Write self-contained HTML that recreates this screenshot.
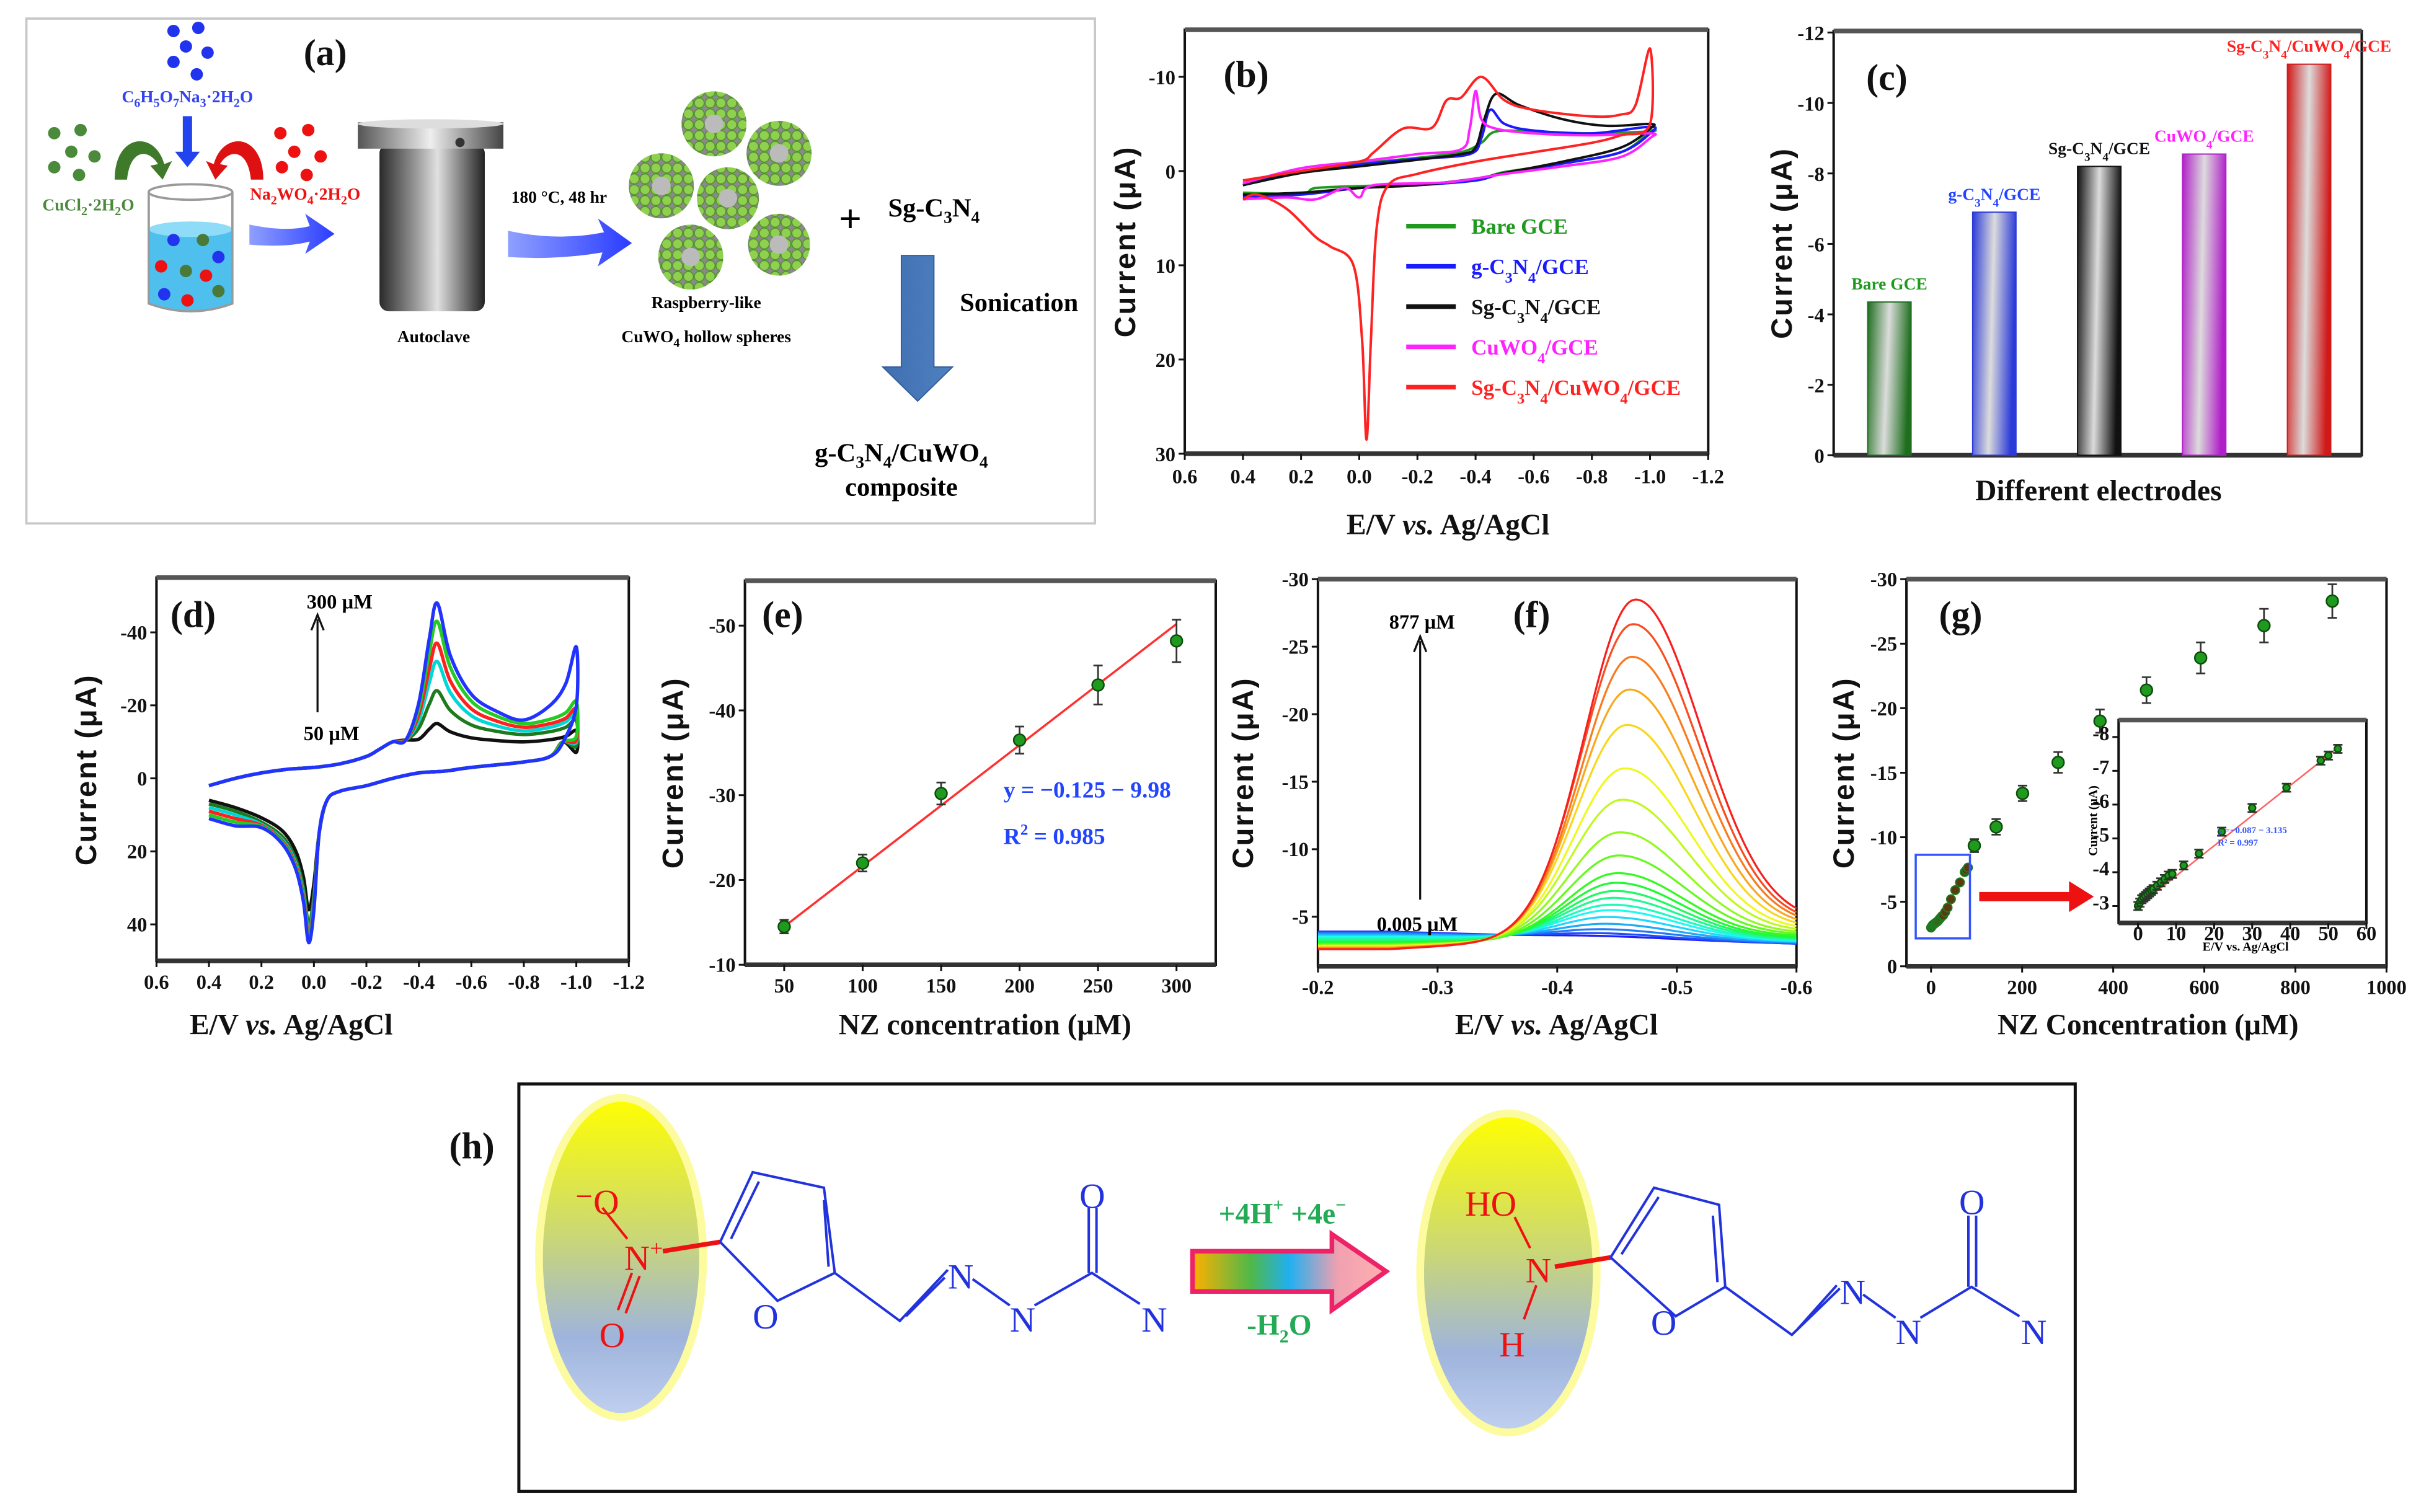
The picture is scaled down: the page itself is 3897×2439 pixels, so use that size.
<!DOCTYPE html>
<html><head><meta charset="utf-8">
<style>
html,body{margin:0;padding:0;background:#fff;}
svg{display:block;}
text{font-family:"Liberation Serif",serif;}
.tk{font-size:13px;font-weight:bold;fill:#111;}
.ttl{font-size:19px;font-weight:bold;fill:#111;}
.yttl{font-family:"Liberation Sans",sans-serif;font-size:19px;font-weight:bold;fill:#111;letter-spacing:1px;}
.plab{font-size:24px;font-weight:bold;fill:#111;}
</style></head>
<body>
<svg id="fig" xmlns="http://www.w3.org/2000/svg" width="3897" height="2439" viewBox="0 0 1560 976.4">
<defs>
  <linearGradient id="gAuto" x1="0" x2="1" y1="0" y2="0"><stop offset="0" stop-color="#2a2a2a"/><stop offset="0.35" stop-color="#9a9a9a"/><stop offset="0.55" stop-color="#e0e0e0"/><stop offset="1" stop-color="#222"/></linearGradient>
  <linearGradient id="gCap" x1="0" x2="1"><stop offset="0" stop-color="#555"/><stop offset="0.5" stop-color="#eee"/><stop offset="1" stop-color="#444"/></linearGradient>
  <linearGradient id="gBlueArrow" x1="0" x2="1"><stop offset="0" stop-color="#8fa0ff"/><stop offset="1" stop-color="#2a3cff"/></linearGradient>
  <pattern id="pBerry" width="7" height="7" patternUnits="userSpaceOnUse"><rect width="7" height="7" fill="#8a8a8a"/><circle cx="3.5" cy="3.5" r="3.2" fill="#8fd14f" stroke="#4f8f2a" stroke-width="0.6"/></pattern>
  <linearGradient id="gEll" x1="0" x2="0" y1="0" y2="1"><stop offset="0" stop-color="#ffff00"/><stop offset="0.45" stop-color="#c8d67a"/><stop offset="0.75" stop-color="#9fb4dc"/><stop offset="1" stop-color="#c0d0f0"/></linearGradient>
  <linearGradient id="gRxn" x1="0" x2="1"><stop offset="0" stop-color="#ffb000"/><stop offset="0.3" stop-color="#50b848"/><stop offset="0.5" stop-color="#20b0f0"/><stop offset="0.75" stop-color="#f0a0b0"/><stop offset="1" stop-color="#ffb0b0"/></linearGradient>
  <linearGradient id="gSon" x1="0" x2="1"><stop offset="0" stop-color="#3f6fb0"/><stop offset="1" stop-color="#4f80c0"/></linearGradient>
</defs>

<!-- ================= PANEL A ================= -->
<g>
  <rect x="17" y="12" width="690" height="326" fill="#fff" stroke="#c8c8c8" stroke-width="1.5"/>
  <text class="plab" x="196" y="42">(a)</text>
  <g fill="#2233ee">
    <circle cx="112" cy="20" r="4"/><circle cx="128" cy="18" r="4"/><circle cx="120" cy="30" r="4"/><circle cx="134" cy="34" r="4"/><circle cx="112" cy="40" r="4"/><circle cx="127" cy="48" r="4"/>
  </g>
  <text x="121" y="66" text-anchor="middle" font-size="11" font-weight="bold" fill="#3344ee">C<tspan font-size="8" dy="3">6</tspan><tspan dy="-3">H</tspan><tspan font-size="8" dy="3">5</tspan><tspan dy="-3">O</tspan><tspan font-size="8" dy="3">7</tspan><tspan dy="-3">Na</tspan><tspan font-size="8" dy="3">3</tspan><tspan dy="-3">·2H</tspan><tspan font-size="8" dy="3">2</tspan><tspan dy="-3">O</tspan></text>
  <path d="M118 75 V98 h-5 l8 10 l8 -10 h-5 V75 z" fill="#2244ee"/>
  <g fill="#4a8a3a">
    <circle cx="35" cy="86" r="4"/><circle cx="52" cy="84" r="4"/><circle cx="46" cy="98" r="4"/><circle cx="61" cy="101" r="4"/><circle cx="35" cy="108" r="4"/><circle cx="51" cy="113" r="4"/>
  </g>
  <path d="M74 116 C74 86 100 84 106 106 l5 -2 l-6 12 l-8 -9 l5 -1 C96 96 84 96 82 116 z" fill="#3f7a2a"/>
  <g fill="#ee1111">
    <circle cx="181" cy="86" r="4"/><circle cx="199" cy="84" r="4"/><circle cx="190" cy="98" r="4"/><circle cx="207" cy="101" r="4"/><circle cx="182" cy="108" r="4"/><circle cx="198" cy="113" r="4"/>
  </g>
  <path d="M170 116 C170 86 144 84 138 106 l-5 -2 l6 12 l8 -9 l-5 -1 C148 96 160 96 162 116 z" fill="#dd1111"/>
  <text x="57" y="136" text-anchor="middle" font-size="11" font-weight="bold" fill="#4a8a3a">CuCl<tspan font-size="8" dy="3">2</tspan><tspan dy="-3">·2H</tspan><tspan font-size="8" dy="3">2</tspan><tspan dy="-3">O</tspan></text>
  <text x="197" y="129" text-anchor="middle" font-size="11" font-weight="bold" fill="#ee1111">Na<tspan font-size="8" dy="3">2</tspan><tspan dy="-3">WO</tspan><tspan font-size="8" dy="3">4</tspan><tspan dy="-3">·2H</tspan><tspan font-size="8" dy="3">2</tspan><tspan dy="-3">O</tspan></text>
  <g>
    <path d="M96 148 V196 Q123 206 150 196 V148 Z" fill="#4fc0ee"/>
    <ellipse cx="123" cy="148" rx="27" ry="5" fill="#8fdcf8"/>
    <path d="M96 124 V196 Q123 206 150 196 V124" fill="none" stroke="#9a9a9a" stroke-width="1.5"/>
    <ellipse cx="123" cy="124" rx="27" ry="5" fill="none" stroke="#9a9a9a" stroke-width="1.5"/>
    <circle cx="112" cy="155" r="4" fill="#2233ee"/><circle cx="131" cy="155" r="4" fill="#4a7a3a"/><circle cx="141" cy="166" r="4" fill="#2233ee"/>
    <circle cx="104" cy="172" r="4" fill="#ee1111"/><circle cx="120" cy="175" r="4" fill="#4a7a3a"/><circle cx="133" cy="178" r="4" fill="#ee1111"/>
    <circle cx="106" cy="190" r="4" fill="#2233ee"/><circle cx="121" cy="194" r="4" fill="#ee1111"/><circle cx="141" cy="188" r="4" fill="#4a7a3a"/>
  </g>
  <path d="M161 145 Q185 150 200 146 L197 138 L216 151 L197 164 L200 156 Q185 160 161 158 Z" fill="url(#gBlueArrow)"/>
  <g>
    <rect x="245" y="93" width="68" height="108" rx="6" fill="url(#gAuto)"/>
    <rect x="231" y="79" width="94" height="17" fill="url(#gCap)"/>
    <ellipse cx="278" cy="80" rx="47" ry="3" fill="#ddd"/>
    <circle cx="297" cy="92" r="3" fill="#333"/>
  </g>
  <text x="280" y="221" text-anchor="middle" font-size="11" font-weight="bold">Autoclave</text>
  <text x="361" y="131" text-anchor="middle" font-size="11" font-weight="bold">180 °C, 48 hr</text>
  <path d="M328 149 Q360 156 390 150 L386 141 L408 157 L386 172 L389 163 Q360 168 328 166 Z" fill="url(#gBlueArrow)"/>
  <g>
    <circle cx="461" cy="80" r="21" fill="url(#pBerry)"/><circle cx="461" cy="80" r="6" fill="#bbb"/>
    <circle cx="503" cy="99" r="21" fill="url(#pBerry)"/><circle cx="503" cy="99" r="6" fill="#bbb"/>
    <circle cx="427" cy="120" r="21" fill="url(#pBerry)"/><circle cx="427" cy="120" r="6" fill="#bbb"/>
    <circle cx="470" cy="128" r="20" fill="url(#pBerry)"/><circle cx="470" cy="128" r="6" fill="#bbb"/>
    <circle cx="446" cy="166" r="21" fill="url(#pBerry)"/><circle cx="446" cy="166" r="6" fill="#bbb"/>
    <circle cx="503" cy="158" r="20" fill="url(#pBerry)"/><circle cx="503" cy="158" r="6" fill="#bbb"/>
  </g>
  <text x="456" y="199" text-anchor="middle" font-size="11" font-weight="bold">Raspberry-like</text>
  <text x="456" y="221" text-anchor="middle" font-size="11" font-weight="bold">CuWO<tspan font-size="8" dy="3">4</tspan><tspan dy="-3"> hollow spheres</tspan></text>
  <text x="549" y="150" text-anchor="middle" font-size="26" font-weight="bold">+</text>
  <text x="603" y="140" text-anchor="middle" font-size="17" font-weight="bold">Sg-C<tspan font-size="11" dy="4">3</tspan><tspan dy="-4">N</tspan><tspan font-size="11" dy="4">4</tspan></text>
  <path d="M582 165 H603 V237 H615 L592.5 259 L570 237 H582 Z" fill="url(#gSon)" stroke="#35609a" stroke-width="0.8"/>
  <text x="658" y="201" text-anchor="middle" font-size="17" font-weight="bold">Sonication</text>
  <text x="582" y="298" text-anchor="middle" font-size="17" font-weight="bold">g-C<tspan font-size="11" dy="4">3</tspan><tspan dy="-4">N</tspan><tspan font-size="11" dy="4">4</tspan><tspan dy="-4">/CuWO</tspan><tspan font-size="11" dy="4">4</tspan></text>
  <text x="582" y="320" text-anchor="middle" font-size="17" font-weight="bold">composite</text>
</g>

<!-- chart containers -->
<g id="pb"></g>
<g id="pc"></g>
<g id="pd"></g>
<g id="pe"></g>
<g id="pf"></g>
<g id="pg"></g>

<!-- ================= PANEL H ================= -->
<g>
  <text class="plab" x="290" y="748">(h)</text>
  <rect x="335" y="700" width="1005" height="263" fill="#fff" stroke="#111" stroke-width="2"/>
  <ellipse cx="401" cy="812" rx="53" ry="103" fill="url(#gEll)" stroke="#fdfba0" stroke-width="5"/>
  <ellipse cx="974" cy="822" rx="57" ry="103" fill="url(#gEll)" stroke="#fdfba0" stroke-width="5"/>
  <g fill="none" stroke-width="1.6">
    <g stroke="#ee1111">
      <line x1="389" y1="780" x2="405" y2="800"/>
      <line x1="408" y1="822" x2="399" y2="846"/><line x1="413" y1="824" x2="404" y2="848"/>
      <line x1="428" y1="808" x2="465" y2="802" stroke-width="3"/>
    </g>
    <g stroke="#2233dd">
      <polyline points="465,802 486,757 532,767 539,822 502,840 465,802"/>
      <line x1="472" y1="800" x2="490" y2="763"/>
      <line x1="532" y1="775" x2="535" y2="818"/>
      <polyline points="539,822 581,853 612,820"/>
      <line x1="585" y1="850" x2="610" y2="825"/>
      <line x1="628" y1="826" x2="652" y2="843"/>
      <polyline points="668,843 705,822 736,842"/>
      <line x1="703" y1="780" x2="703" y2="822"/><line x1="708" y1="780" x2="708" y2="822"/>
    </g>
    <g stroke="none" font-family="Liberation Serif, serif" font-size="23">
      <text x="371" y="784" fill="#ee1111">⁻O</text>
      <text x="403" y="820" fill="#ee1111">N<tspan font-size="15" dy="-9">+</tspan></text>
      <text x="387" y="870" fill="#ee1111">O</text>
      <text x="486" y="858" fill="#2233dd">O</text>
      <text x="612" y="832" fill="#2233dd">N</text>
      <text x="652" y="860" fill="#2233dd">N</text>
      <text x="697" y="780" fill="#2233dd">O</text>
      <text x="737" y="860" fill="#2233dd">N</text>
    </g>
  </g>
  <path d="M770 808 H860 V797 L895 821 L860 846 V834 H770 Z" fill="url(#gRxn)" stroke="#ee2266" stroke-width="3"/>
  <text x="828" y="790" text-anchor="middle" font-size="19" font-weight="bold" fill="#22aa55">+4H<tspan font-size="12" dy="-8">+</tspan><tspan dy="8"> +4e</tspan><tspan font-size="12" dy="-8">−</tspan></text>
  <text x="826" y="862" text-anchor="middle" font-size="19" font-weight="bold" fill="#22aa55">-H<tspan font-size="12" dy="5">2</tspan><tspan dy="-5">O</tspan></text>
  <g fill="none" stroke-width="1.6">
    <g stroke="#ee1111">
      <line x1="978" y1="786" x2="988" y2="806"/>
      <line x1="992" y1="830" x2="984" y2="852"/>
      <line x1="1004" y1="818" x2="1040" y2="812" stroke-width="3"/>
    </g>
    <g stroke="#2233dd">
      <polyline points="1040,812 1068,767 1110,778 1114,831 1082,850 1040,812"/>
      <line x1="1047" y1="810" x2="1071" y2="773"/>
      <line x1="1106" y1="785" x2="1109" y2="828"/>
      <polyline points="1114,831 1157,862 1188,832"/>
      <line x1="1161" y1="858" x2="1186" y2="830"/>
      <line x1="1203" y1="836" x2="1224" y2="851"/>
      <polyline points="1240,851 1273,831 1304,850"/>
      <line x1="1271" y1="785" x2="1271" y2="831"/><line x1="1276" y1="785" x2="1276" y2="831"/>
    </g>
    <g stroke="none" font-family="Liberation Serif, serif" font-size="23">
      <text x="946" y="785" fill="#ee1111">HO</text>
      <text x="985" y="828" fill="#ee1111">N</text>
      <text x="968" y="876" fill="#ee1111">H</text>
      <text x="1066" y="862" fill="#2233dd">O</text>
      <text x="1188" y="842" fill="#2233dd">N</text>
      <text x="1224" y="868" fill="#2233dd">N</text>
      <text x="1265" y="784" fill="#2233dd">O</text>
      <text x="1305" y="868" fill="#2233dd">N</text>
    </g>
  </g>
</g>
</svg>

<script>
// ---------------- DATA ----------------
const bNames = ['Bare GCE','g-C3N4/GCE','Sg-C3N4/GCE','CuWO4/GCE','Sg-C3N4/CuWO4/GCE'];
const bColors = ['#1f9a1f','#1a1aff','#111111','#ff22ff','#ff2222'];
const bBare = [[0.4,1.5],[0.2,0],[0,-0.8],[-0.2,-1.4],[-0.35,-2],[-0.42,-3],[-0.47,-4.2],[-0.6,-4.2],[-0.8,-4],[-1.0,-4.2],[-1.0,-4.2],[-0.9,-2],[-0.7,-0.8],[-0.5,0.1],[-0.4,0.9],[-0.2,1.4],[0,1.6],[0.15,1.8],[0.2,2.4],[0.4,2.3]];
const bG = [[0.4,1.5],[0.2,0],[0,-0.7],[-0.2,-1.3],[-0.38,-1.8],[-0.42,-3.5],[-0.45,-6.5],[-0.5,-5],[-0.6,-4.3],[-0.8,-4],[-1.0,-4.7],[-1.0,-4],[-0.9,-2],[-0.7,-0.8],[-0.5,0.2],[-0.4,1],[-0.2,1.5],[0,1.8],[0.2,2.5],[0.4,2.7]];
const bSg = [[0.4,1.5],[0.2,0.2],[0,-0.5],[-0.2,-1.2],[-0.35,-1.8],[-0.4,-2.5],[-0.43,-5.5],[-0.47,-8.2],[-0.55,-7],[-0.7,-5.5],[-0.85,-4.8],[-1.0,-5],[-1.0,-4.5],[-0.9,-2.5],[-0.7,-1],[-0.5,0.2],[-0.4,0.8],[-0.2,1.5],[0,1.8],[0.2,2.3],[0.4,2.5]];
const bCu = [[0.4,1.3],[0.2,-0.3],[0,-1],[-0.2,-1.8],[-0.35,-2.3],[-0.38,-4.5],[-0.4,-8.5],[-0.42,-5.5],[-0.47,-4.5],[-0.6,-4],[-0.8,-3.8],[-1.0,-4],[-1.0,-3.5],[-0.9,-1.5],[-0.7,-0.5],[-0.5,0.3],[-0.3,1.2],[-0.05,1.5],[0.0,2.8],[0.05,1.8],[0.15,3],[0.25,2.8],[0.4,3]];
const bComp = [[0.4,1.0],[0.2,0],[0,-1],[-0.05,-2],[-0.15,-4.5],[-0.25,-4.6],[-0.3,-7.5],[-0.35,-7.8],[-0.42,-10],[-0.5,-7.5],[-0.6,-6.5],[-0.8,-5.8],[-0.9,-6],[-0.95,-7],[-1.0,-13],[-1.0,-5],[-0.9,-3.8],[-0.8,-3],[-0.6,-2],[-0.4,-1],[-0.2,0.3],[-0.1,1.5],[-0.06,6],[-0.04,18],[-0.025,28.5],[-0.01,18],[0.02,10],[0.1,8],[0.15,7],[0.25,4],[0.35,2.5],[0.4,3]];
const bSeries = [bBare,bG,bSg,bCu,bComp];
const bXTicks = [0.6,0.4,0.2,0.0,-0.2,-0.4,-0.6,-0.8,-1.0,-1.2];
const bYTicks = [-10,0,10,20,30];

const cCats = ['Bare GCE','g-C3N4/GCE','Sg-C3N4/GCE','CuWO4/GCE','Sg-C3N4/CuWO4/GCE'];
const cVals = [-4.35,-6.9,-8.2,-8.55,-11.1];
const cColors = ['#1e6e1e','#2a3ad8','#111111','#b020c8','#d01a1a'];
const cLabelColors = ['#1f9a1f','#2244ff','#111111','#ff22ff','#ff2222'];
const cYTicks = [0,-2,-4,-6,-8,-10,-12];

const dLabels = ['50 µM','100 µM','150 µM','200 µM','250 µM','300 µM'];
const dColors = ['#111111','#1e7a1e','#00d8d8','#ff2020','#22cc22','#2233ff'];
const dPeakOx = [-15,-24,-32,-37,-43,-48];
const dPeakRed = [36,40,42,43,44,45];
const dEnd = [-13,-16,-18,-19,-21,-36];
const dBase = [-10,-12,-13,-14,-15,-16];
const dStart = [6,7,8,9,10,11];
const dXTicks = [0.6,0.4,0.2,0.0,-0.2,-0.4,-0.6,-0.8,-1.0,-1.2];
const dYTicks = [-40,-20,0,20,40];

const eX = [50,100,150,200,250,300];
const eY = [-14.5,-22,-30.2,-36.5,-43,-48.2];
const eErr = [0.8,1.0,1.3,1.6,2.3,2.5];
const eFitX = [50,300];
const eFitY = [-14.5,-50.2];
const eXTicks = [50,100,150,200,250,300];
const eYTicks = [-10,-20,-30,-40,-50];

const fPeaks = [-3.6,-3.8,-4.1,-4.5,-5.0,-5.5,-5.9,-6.4,-6.9,-7.5,-8.2,-9.5,-11.2,-13.6,-15.9,-19.1,-21.7,-24.1,-26.5,-28.3];
const fPeakE = [-0.44,-0.44,-0.442,-0.443,-0.444,-0.445,-0.446,-0.447,-0.448,-0.449,-0.45,-0.451,-0.452,-0.454,-0.456,-0.458,-0.46,-0.462,-0.463,-0.465];
const fBaseLeft = [-3.9,-3.85,-3.8,-3.7,-3.6,-3.5,-3.4,-3.3,-3.2,-3.1,-3.0,-2.95,-2.9,-2.85,-2.8,-2.75,-2.7,-2.65,-2.6,-2.6];
const fBaseRight = [-3.0,-3.0,-3.05,-3.1,-3.15,-3.2,-3.25,-3.3,-3.35,-3.4,-3.5,-3.6,-3.7,-3.8,-3.9,-4.0,-4.1,-4.2,-4.3,-4.4];
const fXTicks = [-0.2,-0.3,-0.4,-0.5,-0.6];
const fYTicks = [-5,-10,-15,-20,-25,-30];

const gX = [95,143,201,279,371,473,592,731,881];
const gY = [-9.35,-10.8,-13.4,-15.8,-19.0,-21.4,-23.9,-26.4,-28.3];
const gErr = [0.5,0.6,0.6,0.8,0.9,1.0,1.2,1.3,1.3];
const gXTicks = [0,200,400,600,800,1000];
const gYTicks = [0,-5,-10,-15,-20,-25,-30];
const insX = [0.005,0.5,1,1.5,2,2.5,3,3.5,4,5,6,7,8,9,12,16,22,30,39,48,50,52.5];
const insY = [-3.0,-3.1,-3.2,-3.25,-3.3,-3.35,-3.4,-3.45,-3.5,-3.6,-3.7,-3.8,-3.9,-3.95,-4.2,-4.55,-5.2,-5.9,-6.5,-7.3,-7.45,-7.65];
const insFitX = [0,52.5];
const insFitY = [-3.0,-7.68];
const insXTicks = [0,10,20,30,40,50,60];
const insYTicks = [-3,-4,-5,-6,-7,-8];

// ---------------- HELPERS ----------------
const NS = 'http://www.w3.org/2000/svg';
function el(tag, attrs, parent){ const e=document.createElementNS(NS,tag); for(const k in attrs) e.setAttribute(k,attrs[k]); parent.appendChild(e); return e; }
function lin(d0,d1,r0,r1){ return v => r0+(v-d0)*(r1-r0)/(d1-d0); }
function smooth(pts){
  let d='M'+pts[0][0].toFixed(2)+','+pts[0][1].toFixed(2);
  for(let i=0;i<pts.length-1;i++){
    const p0=pts[i-1]||pts[i], p1=pts[i], p2=pts[i+1], p3=pts[i+2]||p2;
    const c1x=p1[0]+(p2[0]-p0[0])/6, c1y=p1[1]+(p2[1]-p0[1])/6, c2x=p2[0]-(p3[0]-p1[0])/6, c2y=p2[1]-(p3[1]-p1[1])/6;
    d+=`C${c1x.toFixed(2)},${c1y.toFixed(2)} ${c2x.toFixed(2)},${c2y.toFixed(2)} ${p2[0].toFixed(2)},${p2[1].toFixed(2)}`;
  }
  return d;
}
function fmt(v){ return (Math.abs(v)<1e-9)?'0':String(v); }
function frame(g, x0,y0,x1,y1, sx,sy, xt,yt, xf, yf, fs){
  fs = fs||13;
  const r = el('rect',{x:x0,y:y0,width:x1-x0,height:y1-y0,fill:'none',stroke:'#111','stroke-width':1.6},g);
  
  
  const tb = el('line',{x1:x0,y1:y0,x2:x1,y2:y0,stroke:'#555','stroke-width':3},g);
  
  
  const bb = el('line',{x1:x0,y1:y1,x2:x1,y2:y1,stroke:'#333','stroke-width':3},g);
  
  
  xt.forEach(v=>{
    const x=sx(v);
    const t=el('line',{x1:x,y1:y1,x2:x,y2:y1+4,stroke:'#111','stroke-width':1.2},g);
    
    
    const tx=el('text',{x:x,y:y1+fs+5,'text-anchor':'middle',class:'tk','font-size':fs},g);
    
    
    tx.textContent = xf? xf(v): fmt(v);
  });
  yt.forEach(v=>{
    const y=sy(v);
    const t=el('line',{x1:x0-4,y1:y,x2:x0,y2:y,stroke:'#111','stroke-width':1.2},g);
    
    
    const tx=el('text',{x:x0-6,y:y+fs*0.35,'text-anchor':'end',class:'tk','font-size':fs},g);
    
    
    tx.textContent = yf? yf(v): fmt(v);
  });
}
function ytitle(g,x,y,txt){
  const t=el('text',{x:x,y:y,'text-anchor':'middle',class:'yttl',transform:`rotate(-90 ${x} ${y})`},g);
  
  
  t.textContent=txt;
}
function xtitleEV(g,x,y){
  const t=el('text',{x:x,y:y,'text-anchor':'middle',class:'ttl'},g);
  
  
  t.innerHTML='E/V <tspan font-style="italic">vs.</tspan> Ag/AgCl';
}
function xtitle(g,x,y,txt){
  const t=el('text',{x:x,y:y,'text-anchor':'middle',class:'ttl'},g);
  
  
  t.textContent=txt;
}
function plabel(g,x,y,txt){
  const t=el('text',{x:x,y:y,class:'plab'},g);
  
  
  t.textContent=txt;
}
function subHTML(s){ return s.replace(/(C|N|O)(\d)/g,'$1<tspan font-size="0.7em" baseline-shift="sub">$2</tspan>'); }
const dec1 = v => (Math.abs(v)<1e-9?'0.0':v.toFixed(1));

// ---------------- PANEL B ----------------
(function(){
  const g=document.getElementById('pb');
  const sx=lin(0.6,-1.2,765,1103), sy=lin(-15,30,19.2,293);
  frame(g,765,19.2,1103,293,sx,sy,bXTicks,bYTicks,dec1,null,14);
  bSeries.forEach((s,i)=>{
    const p=el('path',{d:smooth(s.map(q=>[sx(q[0]),sy(q[1])])),fill:'none',stroke:bColors[i],'stroke-width':1.6},g);
    
    
  });
  bNames.forEach((n,i)=>{
    const y=146+i*26;
    const l=el('line',{x1:908,y1:y,x2:940,y2:y,stroke:bColors[i],'stroke-width':3},g);
    
    
    const t=el('text',{x:950,y:y+5,'font-size':14,'font-weight':'bold',fill:bColors[i]},g);
    
    
    t.innerHTML=subHTML(n);
  });
  plabel(g,790,56,'(b)');
  ytitle(g,733,156,'Current (μA)');
  xtitleEV(g,935,345);
})();

// ---------------- PANEL C ----------------
(function(){
  const g=document.getElementById('pc');
  const sx=lin(0,4,1220,1491), sy=lin(0,-12,294,21);
  const defs=el('defs',{},g);
  cColors.forEach((c,i)=>{
    const lg=el('linearGradient',{id:'bg'+i,x1:'0',x2:'1',y1:'0',y2:'0.15'},defs);
    el('stop',{offset:'0','stop-color':c},lg);
    el('stop',{offset:'0.5','stop-color':'#dcdcdc'},lg);
    el('stop',{offset:'1','stop-color':c},lg);
  });
  frame(g,1184,20,1525,294,sx,sy,[],cYTicks,null,null,14);
  cVals.forEach((v,i)=>{
    const x=sx(i)-14, y=sy(v);
    const r=el('rect',{x:x,y:y,width:28,height:sy(0)-y,fill:`url(#bg${i})`,stroke:cColors[i],'stroke-width':0.8},g);
    
    
    const t=el('text',{x:sx(i),y:y-8,'text-anchor':'middle','font-size':11,'font-weight':'bold',fill:cLabelColors[i]},g);
    
    
    t.innerHTML=subHTML(cCats[i]);
  });
  plabel(g,1205,58,'(c)');
  ytitle(g,1157,157,'Current (μA)');
  xtitle(g,1355,323,'Different electrodes');
})();

// ---------------- PANEL D ----------------
(function(){
  const g=document.getElementById('pd');
  const sx=lin(0.6,-1.2,101,406), sy=lin(-55,50,373,620.5);
  frame(g,101,373,406,620.5,sx,sy,dXTicks,dYTicks,dec1,null,13);
  for(let i=0;i<dPeakOx.length;i++){
    const p=dPeakOx[i], b=dBase[i], e=dEnd[i], q=dPeakRed[i];
    const pts=[[0.4,2],[0.3,0],[0.2,-1.5],[0.1,-2.5],[0,-3],[-0.1,-4],[-0.2,-6],[-0.25,-8],[-0.3,-10],[-0.35,-10.5],
      [-0.4,b+(p-b)*0.15],[-0.44,b+(p-b)*0.7],[-0.47,p],[-0.52,b+(p-b)*0.55],[-0.6,b+(p-b)*0.22],[-0.7,b+(p-b)*0.07],[-0.8,b],[-0.9,b+(e-b)*0.2],[-0.96,b+(e-b)*0.5],[-1.0,e],
      [-1.0,e*0.55],[-0.95,-10],[-0.9,-6],[-0.8,-4.5],[-0.6,-3],[-0.5,-2],[-0.4,-1.5],[-0.3,0],[-0.2,2],[-0.1,3.5],[-0.05,6],[-0.02,15],[0.0,q*0.8],[0.02,q],[0.04,q*0.75],[0.07,q*0.55],[0.12,q*0.4],[0.2,q*0.3],[0.3,dStart[i]+2],[0.4,dStart[i]]];
    const path=el('path',{d:smooth(pts.map(r=>[sx(r[0]),sy(r[1])])),fill:'none',stroke:dColors[i],'stroke-width':2.2},g);
    
    
  }
  const a=el('path',{d:'M205 460 V400 M201 407 L205 397 L209 407',stroke:'#111','stroke-width':1.3,fill:'none'},g);
  
  
  const t1=el('text',{x:198,y:393,'font-size':13,'font-weight':'bold'},g);
  
  
  t1.textContent='300 µM';
  const t2=el('text',{x:196,y:478,'font-size':13,'font-weight':'bold'},g);
  
  
  t2.textContent='50 µM';
  plabel(g,110,405,'(d)');
  ytitle(g,62,497,'Current (μA)');
  xtitleEV(g,188,668);
})();

// ---------------- PANEL E ----------------
(function(){
  const g=document.getElementById('pe');
  const sx=lin(25,325,481,785), sy=lin(-10,-55.3,623,375);
  frame(g,481,375,785,623,sx,sy,eXTicks,eYTicks,null,null,13);
  const fl=el('line',{x1:sx(eFitX[0]),y1:sy(eFitY[0]),x2:sx(eFitX[1]),y2:sy(eFitY[1]),stroke:'#ff3030','stroke-width':1.4},g);
  
  
  eX.forEach((x,i)=>{
    const cx=sx(x), cy=sy(eY[i]);
    const eb=el('path',{d:`M${cx} ${sy(eY[i]-eErr[i])} V${sy(eY[i]+eErr[i])} M${cx-3} ${sy(eY[i]-eErr[i])} h6 M${cx-3} ${sy(eY[i]+eErr[i])} h6`,stroke:'#333','stroke-width':1.1,fill:'none'},g);
    
    
    const c=el('circle',{cx:cx,cy:cy,r:3.8,fill:'#1f9a1f',stroke:'#0d4d0d','stroke-width':1},g);
    
    
  });
  const eq=el('text',{x:648,y:515,'font-size':15,'font-weight':'bold',fill:'#2244ff'},g);
  
  
  eq.textContent='y = −0.125 − 9.98';
  const r2=el('text',{x:648,y:545,'font-size':15,'font-weight':'bold',fill:'#2244ff'},g);
  
  
  r2.innerHTML='R<tspan font-size="10" dy="-6">2</tspan><tspan dy="6"> = 0.985</tspan>';
  plabel(g,492,405,'(e)');
  ytitle(g,441,499,'Current (μA)');
  xtitle(g,636,668,'NZ concentration (μM)');
})();

// ---------------- PANEL F ----------------
(function(){
  const g=document.getElementById('pf');
  const sx=lin(-0.2,-0.6,851,1160), sy=lin(-1.33,-30,624,374);
  frame(g,851,374,1160,624,sx,sy,fXTicks,fYTicks,dec1,null,13);
  const clip=el('clipPath',{id:'fclip'},g);
  el('rect',{x:851,y:374,width:309,height:250},clip);
  const cg=el('g',{'clip-path':'url(#fclip)'},g);
  const n=fPeaks.length;
  for(let i=0;i<n;i++){
    const pts=[];
    for(let k=0;k<=80;k++){
      const E=-0.2-k*0.005;
      const t=(E+0.2)/-0.4;
      const base=fBaseLeft[i]+(fBaseRight[i]-fBaseLeft[i])*Math.min(1,Math.max(0,(t-0.15)/0.85));
      const sig=E>fPeakE[i]?0.042:0.055;
      const v=base+(fPeaks[i]-(fBaseLeft[i]+fBaseRight[i])/2)*Math.exp(-Math.pow((E-fPeakE[i])/sig,2)/2);
      pts.push([sx(E),sy(v)]);
    }
    const hue=240-240*i/(n-1);
    const p=el('path',{d:smooth(pts),fill:'none',stroke:`hsl(${hue},95%,55%)`,'stroke-width':1.3},cg);
    
    
  }
  const a=el('path',{d:'M917 581 V414 M913 421 L917 411 L921 421',stroke:'#111','stroke-width':1.3,fill:'none'},g);
  
  
  const t1=el('text',{x:897,y:406,'font-size':13,'font-weight':'bold'},g);
  
  
  t1.textContent='877 µM';
  const t2=el('text',{x:889,y:601,'font-size':13,'font-weight':'bold'},g);
  
  
  t2.textContent='0.005 µM';
  plabel(g,977,405,'(f)');
  ytitle(g,809,499,'Current (μA)');
  xtitleEV(g,1005,668);
})();

// ---------------- PANEL G ----------------
(function(){
  const g=document.getElementById('pg');
  const sx=lin(-54,1000,1231,1541), sy=lin(0,-30,624,374);
  frame(g,1231,374,1541,624,sx,sy,gXTicks,gYTicks,null,null,13);
  function pt(parent,cx,cy,y0,y1,r){
    const eb=el('path',{d:`M${cx} ${y0} V${y1} M${cx-3} ${y0} h6 M${cx-3} ${y1} h6`,stroke:'#333','stroke-width':1.1,fill:'none'},parent);
    
    
    const c=el('circle',{cx:cx,cy:cy,r:r,fill:'#1f9a1f',stroke:'#0d4d0d','stroke-width':1},parent);
    
    
  }
  gX.forEach((x,i)=>pt(g,sx(x),sy(gY[i]),sy(gY[i]-gErr[i]),sy(gY[i]+gErr[i]),3.8));
  insX.forEach((x,i)=>{
    const c=el('circle',{cx:sx(x)+i*0.4,cy:sy(insY[i]),r:2.8,fill:'#5a3a10',stroke:'#1f7a1f','stroke-width':0.8},g);
    
    
  });
  const box=el('rect',{x:1237,y:552,width:35,height:54,fill:'none',stroke:'#3355ff','stroke-width':1.4},g);
  
  
  const ar=el('path',{d:'M1278 576 H1336 V569 L1352 579 L1336 589 V582 H1278 Z',fill:'#ee1111'},g);
  
  
  const ig=el('g',{},g);
  
  
  el('rect',{x:1368,y:465,width:160,height:131,fill:'#fff'},ig);
  const isx=lin(-5.1,60,1368,1528), isy=lin(-2.5,-8.5,596,465);
  frame(ig,1368,465,1528,596,isx,isy,insXTicks,insYTicks,null,null,6);
  const fl=el('line',{x1:isx(insFitX[0]),y1:isy(insFitY[0]),x2:isx(insFitX[1]),y2:isy(insFitY[1]),stroke:'#ff6060','stroke-width':1},ig);
  
  
  insX.forEach((x,i)=>pt(ig,isx(x),isy(insY[i]),isy(insY[i]-0.12),isy(insY[i]+0.12),2.2));
  const e1=el('text',{x:1432,y:538,'font-size':6,'font-weight':'bold',fill:'#3355ff'},ig);
  
  
  e1.textContent='y =−0.087 − 3.135';
  const e2=el('text',{x:1432,y:546,'font-size':6,'font-weight':'bold',fill:'#3355ff'},ig);
  
  
  e2.textContent='R² = 0.997';
  const iy=el('text',{x:1354,y:530,'text-anchor':'middle','font-size':8,'font-weight':'bold',transform:'rotate(-90 1354 530)'},ig);
  
  
  iy.textContent='Current (µA)';
  const ix=el('text',{x:1450,y:614,'text-anchor':'middle','font-size':8,'font-weight':'bold'},ig);
  
  
  ix.textContent='E/V vs. Ag/AgCl';
  plabel(g,1252,405,'(g)');
  ytitle(g,1197,499,'Current (μA)');
  xtitle(g,1387,668,'NZ Concentration (μM)');
})();
</script>
</body></html>
